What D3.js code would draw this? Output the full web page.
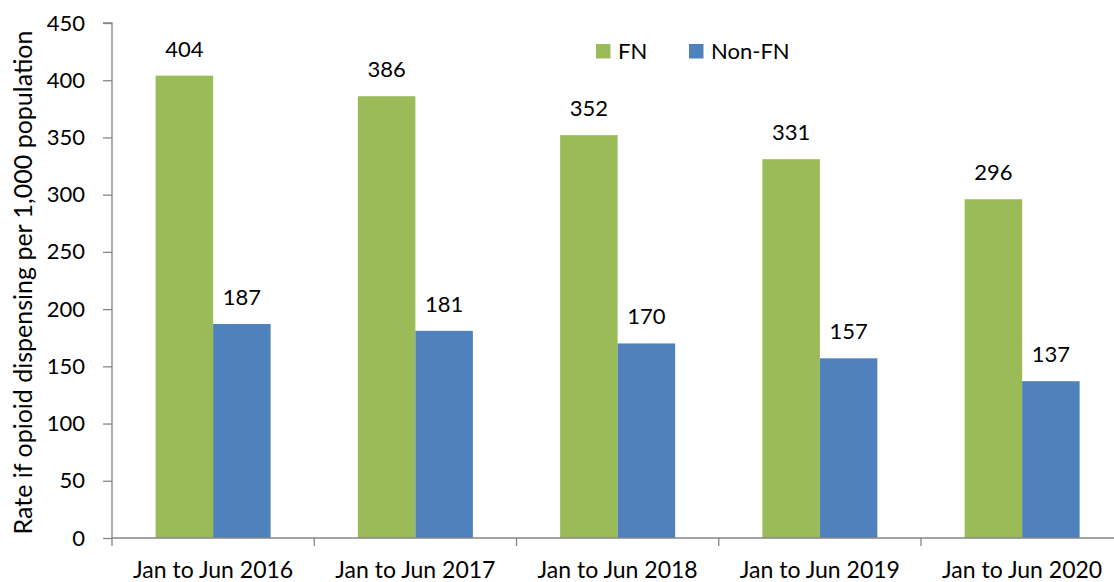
<!DOCTYPE html>
<html>
<head>
<meta charset="utf-8">
<script src="https://cdn.jsdelivr.net/npm/d3@7"></script>
<style>
  body { margin: 0; background: #fff; }
  svg text { font-family: Lato, "Open Sans", sans-serif; fill: #000; }
</style>
</head>
<body>
<div id="chart"></div>
<script>
var categories = ['Jan to Jun 2016', 'Jan to Jun 2017', 'Jan to Jun 2018', 'Jan to Jun 2019', 'Jan to Jun 2020'];
var seriesNames = ['FN', 'Non-FN'];
var fnValues = [404, 386, 352, 331, 296];
var nonFnValues = [187, 181, 170, 157, 137];
var yTicks = [0, 50, 100, 150, 200, 250, 300, 350, 400, 450];

var conf = {
    width: 1114, height: 582,
    left: 112, top: 23, bottom: 538,
    band: 202.25, barWidth: 57.5,
    colors: ['#9BBB59', '#4F81BD'],
    axisColor: '#868686'
};

var svg = d3.select('#chart').append('svg')
    .attr('width', conf.width)
    .attr('height', conf.height);

var x = d3.scaleBand()
    .domain(categories)
    .range([conf.left, conf.left + conf.band * categories.length])
    .paddingInner(0).paddingOuter(0);

var xSub = d3.scaleBand()
    .domain(seriesNames)
    .range([(conf.band - 2 * conf.barWidth) / 2, (conf.band + 2 * conf.barWidth) / 2]);

var y = d3.scaleLinear()
    .domain([0, 450])
    .range([conf.bottom, conf.top]);

// y axis
var yAxis = svg.append('g')
    .attr('transform', 'translate(' + conf.left + ',0)')
    .call(d3.axisLeft(y).tickValues(yTicks).tickSize(9).tickPadding(18));
yAxis.select('.domain').attr('stroke', conf.axisColor).attr('stroke-width', 1.3)
    .attr('d', 'M-9,' + y(450) + 'H0V' + y(0));
yAxis.selectAll('.tick line').attr('stroke', conf.axisColor).attr('stroke-width', 1.3);
yAxis.selectAll('.tick text').style('font-size', '22px').attr('fill', '#000');

// bars
var data = categories.map(function(c, i) {
    return { cat: c, values: [
        { name: 'FN', value: fnValues[i] },
        { name: 'Non-FN', value: nonFnValues[i] }
    ] };
});

var groups = svg.selectAll('g.cat').data(data).enter().append('g')
    .attr('class', 'cat')
    .attr('transform', function(d) { return 'translate(' + x(d.cat) + ',0)'; });

groups.selectAll('rect').data(function(d) { return d.values; })
    .enter().append('rect')
    .attr('x', function(d) { return xSub(d.name); })
    .attr('y', function(d) { return y(d.value); })
    .attr('width', xSub.bandwidth())
    .attr('height', function(d) { return y(0) - y(d.value); })
    .attr('fill', function(d, i) { return conf.colors[i]; });

groups.selectAll('text.val').data(function(d) { return d.values; })
    .enter().append('text')
    .attr('class', 'val')
    .attr('x', function(d) { return xSub(d.name) + xSub.bandwidth() / 2; })
    .attr('y', function(d) { return y(d.value) - 19; })
    .attr('text-anchor', 'middle')
    .style('font-size', '22px')
    .text(function(d) { return d.value; });

// x axis
var xAxis = svg.append('g')
    .attr('transform', 'translate(0,' + conf.bottom + ')')
    .call(d3.axisBottom(x).tickSize(0));
xAxis.select('.domain').attr('stroke', conf.axisColor).attr('stroke-width', 1.3)
    .attr('d', 'M' + conf.left + ',0H' + (conf.left + conf.band * categories.length));
xAxis.selectAll('.tick text')
    .attr('y', 40).attr('dy', 0)
    .style('font-size', '23px').attr('fill', '#000');
xAxis.selectAll('line.sep')
    .data(d3.range(categories.length + 1))
    .enter().append('line')
    .attr('class', 'sep')
    .attr('x1', function(i) { return conf.left + i * conf.band; })
    .attr('x2', function(i) { return conf.left + i * conf.band; })
    .attr('y1', 0).attr('y2', 8)
    .attr('stroke', conf.axisColor).attr('stroke-width', 1.3);

// y title
svg.append('text')
    .attr('transform', 'translate(32,' + ((conf.top + conf.bottom) / 2 + 2) + ') rotate(-90)')
    .attr('text-anchor', 'middle')
    .style('font-size', '25px')
    .text('Rate if opioid dispensing per 1,000 population');

// legend
var legendX = [596, 689];
var legend = svg.selectAll('g.legend').data(seriesNames).enter().append('g')
    .attr('class', 'legend')
    .attr('transform', function(d, i) { return 'translate(' + legendX[i] + ',44)'; });
legend.append('rect')
    .attr('width', 14.5).attr('height', 14.5)
    .attr('fill', function(d, i) { return conf.colors[i]; });
legend.append('text')
    .attr('x', 22).attr('y', 15)
    .style('font-size', '22px')
    .text(function(d) { return d; });
</script>
</body>
</html>
